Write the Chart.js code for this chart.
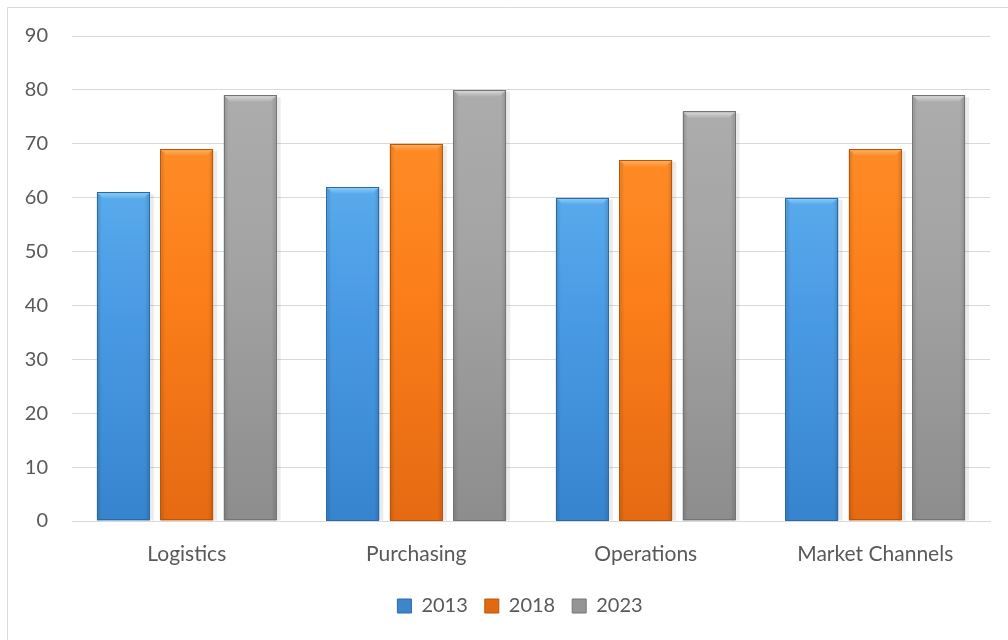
<!DOCTYPE html>
<html>
<head>
<meta charset="utf-8">
<script src="https://cdn.jsdelivr.net/npm/chart.js@4/dist/chart.umd.min.js"></script>
<style>
  html,body{margin:0;padding:0;background:#fff;}
  #wrap{position:absolute;left:0;top:0;width:1008px;height:640px;}
</style>
</head>
<body>
<div id="wrap"><canvas id="c" width="1008" height="640"></canvas></div>
<script>
const categories = ["Logistics", "Purchasing", "Operations", "Market Channels"];
const seriesNames = ["2013", "2018", "2023"];
const values2013 = [61, 62, 60, 60];
const values2018 = [69, 70, 67, 69];
const values2023 = [79, 80, 76, 79];
const yTicks = [0, 10, 20, 30, 40, 50, 60, 70, 80, 90];

const palettes = [
  {top:"#58AAEC", mid:"#4899E3", bot:"#3784CE", bevel:"#8FD2F8", edge:"#2C6AA6", legend:"#3D86CC"},
  {top:"#FF8B26", mid:"#FB7E1A", bot:"#E56A12", bevel:"#FDB465", edge:"#B8560E", legend:"#E06A12"},
  {top:"#ACACAC", mid:"#A3A3A3", bot:"#8D8D8D", bevel:"#DEDEDE", edge:"#747474", legend:"#959595"}
];

function makeFill(pi){
  return function(ctx){
    const chart = ctx.chart;
    const ys = chart.scales && chart.scales.y;
    if (!ys || ctx.type !== 'data') return palettes[pi].mid;
    const top = ys.getPixelForValue(ctx.raw);
    const base = ys.getPixelForValue(0);
    const g = chart.ctx.createLinearGradient(0, top, 0, base);
    g.addColorStop(0, palettes[pi].top);
    g.addColorStop(0.4, palettes[pi].mid);
    g.addColorStop(1, palettes[pi].bot);
    return g;
  };
}

const bevelPlugin = {
  id: 'bevel',
  afterLayout(chart){
    if (chart.legend) { chart.legend.left += 25; chart.legend.right += 25; }
  },
  beforeDraw(chart){
    const c = chart.ctx;
    c.save();
    c.fillStyle = '#ffffff';
    c.fillRect(0,0,chart.width,chart.height);
    c.strokeStyle = '#D9D9D9';
    c.lineWidth = 1;
    c.beginPath();
    c.moveTo(7.5, 640);
    c.lineTo(7.5, 7.5);
    c.lineTo(1008, 7.5);
    c.stroke();
    c.restore();
  },
  beforeDatasetsDraw(chart){
    const c = chart.ctx;
    c.save();
    chart.data.datasets.forEach((ds, di) => {
      chart.getDatasetMeta(di).data.forEach(bar => {
        const w = bar.width, x0 = bar.x - w/2;
        c.fillStyle = 'rgba(0,0,0,0.08)';
        c.fillRect(x0 + 2, bar.y + 2, w + 2, bar.base - bar.y - 2);
      });
    });
    c.restore();
  },
  afterDatasetsDraw(chart){
    const c = chart.ctx;
    c.save();
    chart.data.datasets.forEach((ds, di) => {
      const p = palettes[di];
      chart.getDatasetMeta(di).data.forEach(bar => {
        const w = bar.width, x0 = bar.x - w/2, x1 = bar.x + w/2;
        const t = bar.y, b = bar.base;
        const bv = 7;
        const g = c.createLinearGradient(0, t, 0, t + bv);
        g.addColorStop(0, p.bevel);
        g.addColorStop(1, p.top);
        c.fillStyle = g;
        c.beginPath();
        c.moveTo(x0 + 1, t + 1);
        c.lineTo(x1 - 1, t + 1);
        c.lineTo(x1 - bv, t + bv);
        c.lineTo(x0 + bv, t + bv);
        c.closePath();
        c.fill();
        const gl = c.createLinearGradient(x0, 0, x0 + 5, 0);
        gl.addColorStop(0, 'rgba(0,0,0,0.15)');
        gl.addColorStop(1, 'rgba(0,0,0,0)');
        c.fillStyle = gl;
        c.fillRect(x0 + 1, t + 2, 5, b - t - 2);
        const gr = c.createLinearGradient(x1 - 5, 0, x1, 0);
        gr.addColorStop(0, 'rgba(0,0,0,0)');
        gr.addColorStop(1, 'rgba(0,0,0,0.15)');
        c.fillStyle = gr;
        c.fillRect(x1 - 6, t + 2, 5, b - t - 2);
        c.strokeStyle = p.edge;
        c.lineWidth = 1;
        c.strokeRect(Math.round(x0) + 0.5, Math.round(t) + 0.5, Math.round(w) - 1, Math.round(b - t) - 1);
      });
    });
    c.restore();
  }
};

const fontFamily = "Lato, 'Liberation Sans', sans-serif";
const textColor = "#595959";

new Chart(document.getElementById('c'), {
  type: 'bar',
  data: {
    labels: categories,
    datasets: [
      {label: seriesNames[0], data: values2013, backgroundColor: makeFill(0), borderWidth: 0},
      {label: seriesNames[1], data: values2018, backgroundColor: makeFill(1), borderWidth: 0},
      {label: seriesNames[2], data: values2023, backgroundColor: makeFill(2), borderWidth: 0}
    ]
  },
  plugins: [bevelPlugin],
  options: {
    responsive: false,
    animation: false,
    devicePixelRatio: 1,
    categoryPercentage: 0.829,
    barPercentage: 0.835,
    layout: {padding: {top: 36, right: 18, left: 0, bottom: 14}},
    plugins: {
      tooltip: {enabled: false},
      legend: {
        position: 'bottom',
        labels: {
          font: {family: fontFamily, size: 20},
          color: textColor,
          boxWidth: 14,
          boxHeight: 14,
          padding: 17,
          generateLabels(chart){
            return seriesNames.map((n, i) => ({
              text: n, fillStyle: palettes[i].legend, strokeStyle: palettes[i].edge,
              lineWidth: 1, hidden: false, datasetIndex: i, fontColor: textColor
            }));
          }
        }
      }
    },
    scales: {
      x: {
        grid: {display: false, drawTicks: false},
        border: {display: true, color: '#D9D9D9', width: 1},
        ticks: {font: {family: fontFamily, size: 21}, color: textColor, padding: 21, maxRotation: 0},
        afterFit(s){ s.height = 58; }
      },
      y: {
        min: 0, max: 90,
        afterBuildTicks(s){ s.ticks = yTicks.map(v => ({value: v})); },
        grid: {color: '#D9D9D9', lineWidth: 1, drawTicks: false},
        border: {display: false},
        ticks: {font: {family: fontFamily, size: 20}, color: textColor, padding: 24},
        afterFit(s){ s.width = 72; }
      }
    }
  }
});
</script>
</body>
</html>
